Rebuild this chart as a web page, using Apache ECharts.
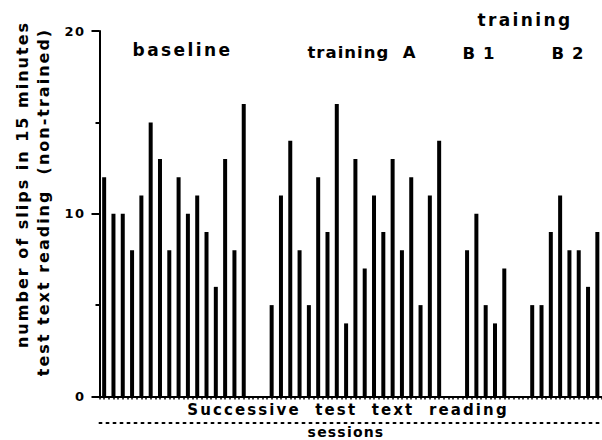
<!DOCTYPE html>
<html><head><meta charset="utf-8">
<script src="https://cdn.jsdelivr.net/npm/echarts@6/dist/echarts.min.js"></script>
<style>
html,body{margin:0;padding:0;background:#fff;}
#c{width:602px;height:440px;background:#fff;}
#c text[style*="13px"]{letter-spacing:1.5px;}
#c text[style*="14px"]{letter-spacing:1.2px;}
#c text[style*="15px"]{letter-spacing:2.1px;}
#c text[style*="16px"]{letter-spacing:2px;}
#c text[style*="16.5px"]{letter-spacing:1px;}
#c text[style*="17px"]{letter-spacing:2.4px;}
</style></head><body><div id="c"></div>
<script>
// slips per session
const baseline   = [12, 10, 10, 8, 11, 15, 13, 8, 12, 10, 11, 9, 6, 13, 8, 16];
const trainingA  = [5, 11, 14, 8, 5, 12, 9, 16, 4, 13, 7, 11, 9, 13, 8, 12, 5, 11, 14];
const trainingB1 = [8, 10, 5, 4, 7];
const trainingB2 = [5, 5, 9, 11, 8, 8, 6, 9];
const gapSessions = 2;          // empty session slots between phases
const yTickLabels = ['0', '10', '20'];

const phases = [baseline, trainingA, trainingB1, trainingB2];
const values = [];
phases.forEach((arr, i) => {
  if (i > 0) for (let k = 0; k < gapSessions; k++) values.push('-');
  arr.forEach(v => values.push(v));
});
const sessions = values.map((v, i) => String(i + 1));
const nSlots = sessions.length;

const F = '"DejaVu Sans"';
const chart = echarts.init(document.getElementById('c'), null, {renderer: 'svg'});
chart.setOption({
  animation: false,
  backgroundColor: '#fff',
  grid: {left: 99.5, right: -4.5, top: 31, bottom: 43.5, containLabel: false},
  xAxis: [
    {
      type: 'category', data: sessions, position: 'bottom', boundaryGap: true,
      axisLine: {show: true, lineStyle: {color: '#000', width: 2}},
      axisTick: {show: false}, axisLabel: {show: false}, splitLine: {show: false}
    },
    {
      type: 'value', min: 0, max: nSlots, interval: 0.5, position: 'bottom',
      axisLine: {show: false}, axisLabel: {show: false}, splitLine: {show: false},
      axisTick: {show: true, length: 3, lineStyle: {color: '#000', width: 1.5}}
    },
    {
      type: 'value', min: 0, max: nSlots, position: 'bottom', offset: 26.5,
      axisLine: {show: true, lineStyle: {color: '#000', width: 2, type: [2, 5]}},
      axisLabel: {show: false}, splitLine: {show: false}, axisTick: {show: false}
    }
  ],
  yAxis: {
    type: 'value', min: 0, max: 20, interval: 10,
    axisLine: {show: true, lineStyle: {color: '#000', width: 2}},
    axisTick: {show: true, length: 8, lineStyle: {color: '#000', width: 2}},
    minorTick: {show: true, splitNumber: 2, length: 4, lineStyle: {color: '#000', width: 2}},
    splitLine: {show: false},
    axisLabel: {
      margin: 14, color: '#000', fontSize: 13, fontWeight: 'bold', fontFamily: 'DejaVu Sans',
      formatter: v => yTickLabels.indexOf(String(v)) >= 0 ? String(v) : ''
    }
  },
  series: [{
    type: 'bar', data: values, barWidth: 4, xAxisIndex: 0,
    itemStyle: {color: '#000'}
  }],
  graphic: [
    {type: 'text', x: 182.5, y: 50, style: {text: 'baseline', font: 'bold 17px ' + F, textAlign: 'center', textVerticalAlign: 'middle', fill: '#000'}},
    {type: 'text', x: 362, y: 52, style: {text: 'training  A', font: 'bold 16.5px ' + F, textAlign: 'center', textVerticalAlign: 'middle', fill: '#000'}},
    {type: 'text', x: 525, y: 20, style: {text: 'training', font: 'bold 17px ' + F, textAlign: 'center', textVerticalAlign: 'middle', fill: '#000'}},
    {type: 'text', x: 479, y: 53, style: {text: 'B 1', font: 'bold 16.5px ' + F, textAlign: 'center', textVerticalAlign: 'middle', fill: '#000'}},
    {type: 'text', x: 568, y: 53, style: {text: 'B 2', font: 'bold 16.5px ' + F, textAlign: 'center', textVerticalAlign: 'middle', fill: '#000'}},
    {type: 'text', x: 22, y: 184.5, rotation: Math.PI / 2, style: {text: 'number of slips in 15 minutes', font: 'bold 16px ' + F, textAlign: 'center', textVerticalAlign: 'middle', fill: '#000'}},
    {type: 'text', x: 43, y: 202, rotation: Math.PI / 2, style: {text: 'test text reading  (non-trained)', font: 'bold 16px ' + F, textAlign: 'center', textVerticalAlign: 'middle', fill: '#000'}},
    {type: 'text', x: 348, y: 410, style: {text: 'Successive  test  text  reading', font: 'bold 15px ' + F, textAlign: 'center', textVerticalAlign: 'middle', fill: '#000'}},
    {type: 'text', x: 346, y: 431.5, style: {text: 'sessions', font: 'bold 14px ' + F, textAlign: 'center', textVerticalAlign: 'middle', fill: '#000'}}
  ]
});
</script></body></html>
